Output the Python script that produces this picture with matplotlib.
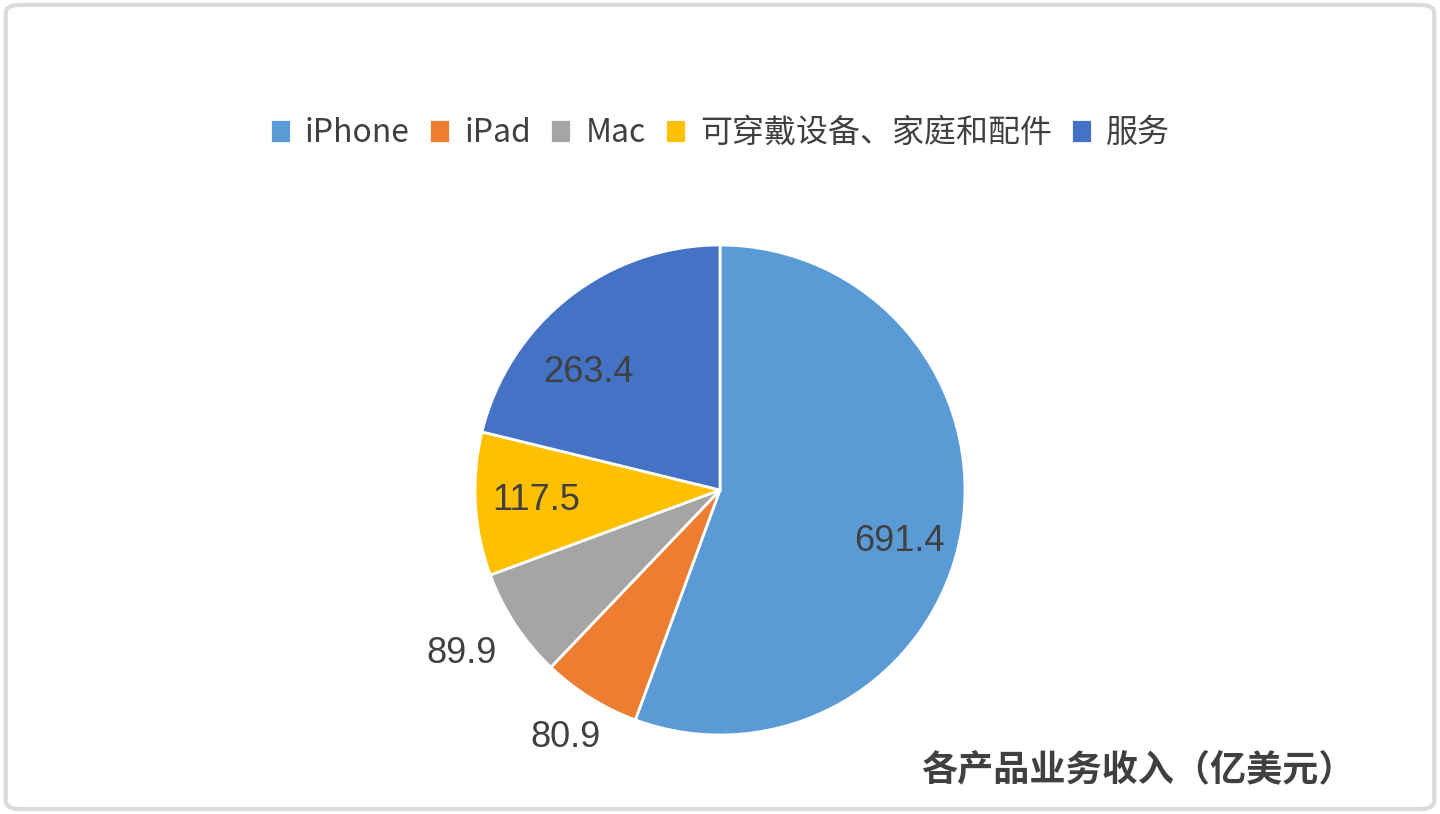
import numpy as np
import matplotlib
matplotlib.use("Agg")
import matplotlib.pyplot as plt
from matplotlib.patches import FancyBboxPatch

plt.rcParams['font.family'] = ['Noto Sans CJK SC', 'DejaVu Sans']

categories = ["iPhone", "iPad", "Mac", "可穿戴设备、家庭和配件", "服务"]
values = [691.4, 80.9, 89.9, 117.5, 263.4]
value_labels = ["691.4", "80.9", "89.9", "117.5", "263.4"]
colors = ["#5B9BD5", "#ED7D31", "#A5A5A5", "#FFC000", "#4472C4"]
label_radius = [0.76, 1.19, 1.25, 0.75, 0.72]
label_angle_shift = [-6, 0, -1, 0, 10]
title = "各产品业务收入（亿美元）"

fig = plt.figure(figsize=(14.4, 8.14), dpi=100)
fig.patch.set_facecolor("white")

border = FancyBboxPatch((0.004, 0.006), 0.992, 0.988, boxstyle="round,pad=0,rounding_size=0.01",
                        transform=fig.transFigure, facecolor="none", edgecolor="#DADADA",
                        linewidth=3, zorder=0)
fig.patches.append(border)

ax = fig.add_axes([475/1440, (814-735)/814, 490/1440, 490/814])
wedges, _ = ax.pie(values, colors=colors, startangle=90, counterclock=False, radius=1,
                   wedgeprops=dict(edgecolor="white", linewidth=2))
ax.set_xlim(-1, 1)
ax.set_ylim(-1, 1)
ax.set_aspect("equal")
ax.axis("off")

for w, lab, r, sh in zip(wedges, value_labels, label_radius, label_angle_shift):
    ang = np.deg2rad((w.theta1 + w.theta2) / 2 + sh)
    ax.text(r * np.cos(ang), r * np.sin(ang), lab, ha="center", va="center",
            fontsize=26, color="#404040", family=["Liberation Sans", "DejaVu Sans"],
            clip_on=False)

fig.legend(wedges, categories, loc="center", bbox_to_anchor=(0.5, 1 - 133/814), ncol=5,
           frameon=False, fontsize=23, handlelength=0.65, handleheight=0.75,
           handletextpad=0.45, columnspacing=0.6, labelcolor="#404040")

fig.text(1138/1440, 1 - 770/814, title, ha="center", va="center", fontsize=26,
         color="#404040", fontweight="bold")

fig.savefig("out.png", dpi=100)
